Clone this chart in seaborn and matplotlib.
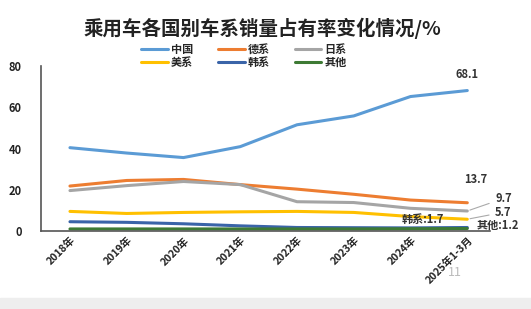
import matplotlib
matplotlib.use("Agg")
import matplotlib.pyplot as plt
import seaborn as sns
import pandas as pd
from matplotlib.lines import Line2D

sns.set_theme(style="white")
plt.rcParams['font.family'] = ['Noto Sans CJK SC', 'DejaVu Sans']

periods = ["2018年", "2019年", "2020年", "2021年", "2022年", "2023年", "2024年", "2025年1-3月"]
china = [40.4, 37.8, 35.6, 40.9, 51.5, 55.8, 65.2, 68.1]
german = [21.8, 24.5, 25.0, 22.5, 20.3, 17.8, 15.0, 13.7]
japan = [19.6, 22.0, 24.0, 22.5, 14.2, 13.8, 11.0, 9.7]
usa = [9.5, 8.5, 9.0, 9.3, 9.5, 9.0, 7.0, 5.7]
korea = [4.5, 4.2, 3.5, 2.5, 1.7, 1.6, 1.5, 1.7]
other = [1.0, 1.0, 1.0, 1.0, 1.0, 1.0, 1.1, 1.2]

series = ["中国", "德系", "日系", "美系", "韩系", "其他"]
colors = ["#5b9bd5", "#ed7d31", "#a5a5a5", "#ffc000", "#3a64a8", "#3d7a34"]
values = [china, german, japan, usa, korea, other]

rows = []
for s, v in zip(series, values):
    for i, y in enumerate(v):
        rows.append({"period": i, "series": s, "value": y})
df = pd.DataFrame(rows)

fig = plt.figure(figsize=(5.31, 3.09), dpi=100)
ax = fig.add_axes([41/531, 78/309, 449/531, 165/309])
sns.lineplot(data=df, x="period", y="value", hue="series", hue_order=series,
             palette=colors, linewidth=2.2, ax=ax, legend=False)

ax.set_xlim(-0.51, 7.4)
ax.set_ylim(0, 80)
ax.set_yticks([0, 20, 40, 60, 80])
ax.set_yticklabels(["0", "20", "40", "60", "80"], fontsize=8, fontweight="bold", color="#222222")
ax.set_xticks(range(len(periods)))
ax.set_xticklabels(periods, rotation=45, ha="right", rotation_mode="anchor",
                   fontsize=7.5, fontweight="bold", color="#222222")
ax.tick_params(axis="both", length=0, pad=3)
ax.tick_params(axis="y", pad=14)
ax.set_xlabel("")
ax.set_ylabel("")
for sp in ["top", "right"]:
    ax.spines[sp].set_visible(False)
for sp in ["left", "bottom"]:
    ax.spines[sp].set_color("#555555")
    ax.spines[sp].set_linewidth(1.2)

last = len(periods) - 1
lbl = dict(fontsize=8, fontweight="bold", color="#333333")
ax.annotate(f"{china[-1]}", (last, china[-1]), xytext=(0, 9), textcoords="offset points",
            ha="center", **lbl)
ax.annotate(f"{german[-1]}", (last, german[-1]), xytext=(6, 14), textcoords="offset points",
            ha="center", **lbl)
ax.annotate(f"{japan[-1]}", (last, japan[-1]), xytext=(20, 9), textcoords="offset points",
            ha="left", va="center",
            arrowprops=dict(arrowstyle="-", color="#aaaaaa", lw=0.8), **lbl)
ax.annotate(f"{usa[-1]}", (last, usa[-1]), xytext=(20, 5), textcoords="offset points",
            ha="left", va="center",
            arrowprops=dict(arrowstyle="-", color="#aaaaaa", lw=0.8), **lbl)
ax.annotate(f"韩系:{korea[-1]}", (last, korea[-1]), xytext=(-32, 6), textcoords="offset points",
            ha="center", va="center", **lbl)
ax.annotate(f"其他:{other[-1]}", (last, other[-1]), xytext=(22, 2.5), textcoords="offset points",
            ha="center", va="center", **lbl)

fig.suptitle("乘用车各国别车系销量占有率变化情况/%", x=262/531, y=1-28/309, va="center",
             fontsize=14, fontweight="bold", color="#222222")

handles = [Line2D([], [], color=c, lw=2.2) for c in colors]
order = [0, 3, 1, 4, 2, 5]
fig.legend([handles[i] for i in order], [series[i] for i in order], ncol=3,
           loc="center", bbox_to_anchor=(244/531, 1-56/309), frameon=False,
           prop={"size": 8, "weight": "bold"}, handlelength=2.4, handletextpad=0.3,
           columnspacing=2.2, labelspacing=0.0)

fig.text(455/531, 1-272/309, "11", fontsize=9, color="#bbbbbb", ha="center", va="center")
fig.patches.append(plt.Rectangle((0, 0), 1, 11/309, transform=fig.transFigure,
                                 color="#eeeeee", zorder=-1))

fig.savefig("out.png", dpi=100)
